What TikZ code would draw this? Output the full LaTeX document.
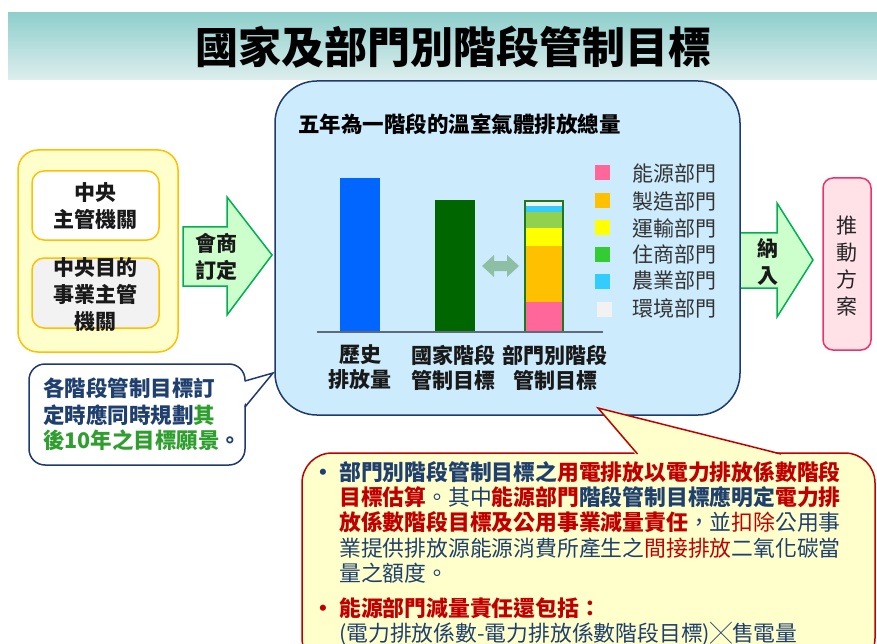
\documentclass[tikz,border=0pt]{standalone}
\usepackage{fontspec}
\setmainfont{Noto Sans CJK TC}
\definecolor{bandtop}{HTML}{8FCFCC}
\definecolor{bandbot}{HTML}{DDEEEE}
\definecolor{boxblue}{HTML}{CCEBFC}
\definecolor{navyb}{HTML}{1F3A6E}
\definecolor{txtnavy}{HTML}{1F3F6E}
\definecolor{cred}{HTML}{C00000}
\definecolor{cgreen}{HTML}{2E9E2E}
\definecolor{yelfill}{HTML}{FFFFCC}
\definecolor{gold}{HTML}{FFC000}
\definecolor{arrfill}{HTML}{CCFFCC}
\definecolor{arrdraw}{HTML}{00B050}
\definecolor{pinkfill}{HTML}{FFE1E8}
\definecolor{pinkdraw}{HTML}{F0306A}
\definecolor{cpink}{HTML}{FF6699}
\definecolor{corange}{HTML}{FFC000}
\definecolor{cyellow}{HTML}{FFFF00}
\definecolor{clgreen}{HTML}{92D050}
\definecolor{cgreenleg}{HTML}{33CC33}
\definecolor{ccyan}{HTML}{33CCFF}
\definecolor{cgray}{HTML}{F2F2F2}
\definecolor{dblarrow}{HTML}{8CBFA3}
\newcommand\cNB[1]{{\bfseries\color{txtnavy}#1}}
\newcommand\cNR[1]{{\color{txtnavy}#1}}
\newcommand\cRB[1]{{\bfseries\color{cred}#1}}
\newcommand\cRR[1]{{\color{cred}#1}}
\begin{document}
\begin{tikzpicture}[x=1pt,y=-1pt,
  garrow/.style={fill=arrfill,draw=arrdraw,line width=1.5pt,line join=miter},
  blbl/.style={inner sep=0pt,align=center,font=\fontsize{21}{27}\selectfont\bfseries,text=black!90},
  barlbl/.style={inner sep=0pt,align=center,font=\fontsize{21}{25}\selectfont\bfseries,text=black!90},
  legtxt/.style={inner sep=0pt,anchor=west,font=\fontsize{21}{21}\selectfont,text=black!80},
  legsq/.style={minimum width=15pt,minimum height=15pt,inner sep=0pt},
  cline/.style={inner sep=0pt,anchor=base west,font=\fontsize{21.8}{21.8}\selectfont},
  lline/.style={inner sep=0pt,anchor=base west,font=\fontsize{21.5}{21.5}\selectfont\bfseries}]
\useasboundingbox (0,0) rectangle (877,644);
\clip (0,0) rectangle (877,644);
\fill[white] (0,0) rectangle (877,644);
% title band
\shade[top color=bandtop,bottom color=bandbot] (8,13) rectangle (877,80);
\node[inner sep=0pt,font=\fontsize{43}{43}\selectfont\bfseries] (title) at (453,47) {國家及部門別階段管制目標};
% left group
\draw[fill=yelfill,draw=gold,line width=1.5pt,rounded corners=20pt] (18,150) rectangle (178,352);
\draw[fill=white,draw=gold,line width=1.5pt,rounded corners=12pt] (32,171) rectangle (159,240);
\draw[fill=cgray,draw=gold,line width=1.5pt,rounded corners=12pt] (32,258) rectangle (159,328);
\node[blbl] (central) at (95,206.5) {中央\\主管機關};
\node[blbl] (industry) at (95,295) {中央目的\\事業主管\\機關};
% left arrow
\draw[garrow] (183,227) -- (227,227) -- (227,197) -- (272,255) -- (227,315) -- (227,286) -- (183,286) -- cycle;
\node[blbl] (consult) at (216,256.5) {會商\\訂定};
% right arrow
\draw[garrow] (740,233) -- (777,233) -- (777,203) -- (813,260) -- (777,317) -- (777,288) -- (740,288) -- cycle;
\node[blbl] (include) at (768,261.5) {納\\入};
% blue box
\draw[fill=boxblue,draw=navyb,line width=1.5pt,rounded corners=42pt] (275,81) rectangle (740,415);
\node[inner sep=0pt,anchor=west,font=\fontsize{21.5}{21.5}\selectfont\bfseries] (head) at (298,124) {五年為一階段的溫室氣體排放總量};
% bars
\fill[fill={rgb,255:red,0;green,102;blue,255}] (340,178) rectangle (380,332);
\fill[fill={rgb,255:red,0;green,102;blue,0}] (435,200) rectangle (475,332);
\fill[cpink] (525,302) rectangle (563,332);
\fill[corange] (525,246) rectangle (563,302);
\fill[cyellow] (525,228) rectangle (563,246);
\fill[clgreen] (525,212) rectangle (563,228);
\fill[ccyan] (525,206) rectangle (563,212);
\fill[cgray] (525,201) rectangle (563,206);
\draw[draw={rgb,255:red,30;green,120;blue,30},line width=1.5pt] (525,201) rectangle (563,332);
\draw[draw={rgb,255:red,95;green,107;blue,122},line width=2pt] (317,332) -- (603,332);
\fill[dblarrow] (482,266) -- (494,255) -- (494,261) -- (507,261) -- (507,255) -- (519,266) -- (507,277) -- (507,271) -- (494,271) -- (494,277) -- cycle;
\node[barlbl] (hist) at (360,367.5) {歷史\\排放量};
\node[barlbl] (national) at (453,367.5) {國家階段\\管制目標};
\node[barlbl] (sector) at (555,367.5) {部門別階段\\管制目標};
% legend
\node[legsq,fill=cpink] (sq1) at (602.5,173) {};
\node[legsq,fill=corange] (sq2) at (602.5,201) {};
\node[legsq,fill=cyellow] (sq3) at (602.5,228) {};
\node[legsq,fill=cgreenleg] (sq4) at (602.5,254) {};
\node[legsq,fill=ccyan] (sq5) at (602.5,281) {};
\node[legsq,fill=cgray] (sq6) at (604,309) {};
\node[legtxt] (l1) at (632,174) {能源部門};
\node[legtxt] (l2) at (632,201) {製造部門};
\node[legtxt] (l3) at (632,228) {運輸部門};
\node[legtxt] (l4) at (632,254) {住商部門};
\node[legtxt] (l5) at (632,281) {農業部門};
\node[legtxt] (l6) at (632,308) {環境部門};
% pink box
\draw[fill=pinkfill,draw=pinkdraw,line width=1.5pt,rounded corners=10pt] (823,178) rectangle (871,350);
\node[inner sep=0pt,align=center,font=\fontsize{21}{27.3}\selectfont,text=black!85] (plan) at (847,266) {推\\動\\方\\案};
% left callout
\draw[fill=white,draw=navyb,line width=1.5pt,rounded corners=16pt] (29,364) rectangle (245,465);
\fill[white] (243,382) -- (273,373) -- (243,406) -- cycle;
\draw[navyb,line width=1.5pt,line join=miter] (245,381) -- (273,373) -- (245,407);
\node[lline] (c1) at (43,396) {\color{txtnavy}各階段管制目標訂};
\node[lline] (c2) at (43,423) {\color{txtnavy}定時應同時規劃\color{cgreen}其};
\node[lline] (c3) at (43,448) {\color{cgreen}後10年之目標願景\color{txtnavy}。};
% red callout
\draw[fill=yelfill,draw=cred,line width=1.5pt,rounded corners=30pt] (302,453) rectangle (875,668);
\fill[yelfill] (636,455) -- (598,408) -- (782,455) -- cycle;
\draw[cred,line width=1.5pt,line join=miter] (637.5,454) -- (598,408) -- (781,454);
\node[inner sep=0pt,anchor=base,font=\fontsize{21.8}{21.8}\selectfont\bfseries,text=txtnavy] (b1) at (323,480.3) {•};
\node[inner sep=0pt,anchor=base,font=\fontsize{21.8}{21.8}\selectfont\bfseries,text=cred] (b2) at (323,616.3) {•};
\node[cline] (t1) at (339,480.3) {\cNB{部門別階段管制目標之}\cRB{用電排放以電力排放係數階段}};
\node[cline] (t2) at (339,505.3) {\cRB{目標估算}\cNR{。其中}\cRB{能源部門}\cNB{階段管制目標應明定}\cRB{電力排}};
\node[cline] (t3) at (339,530.3) {\cRB{放係數階段目標及公用事業減量責任}\cNR{，並}\cRR{扣除}\cNR{公用事}};
\node[cline] (t4) at (339,556.3) {\cNR{業提供排放源能源消費所產生之}\cRR{間接排放}\cNR{二氧化碳當}};
\node[cline] (t5) at (339,581.3) {\cNR{量之額度。}};
\node[cline] (t6) at (339,616.3) {\cRB{能源部門減量責任還包括：}};
\node[cline] (t7) at (339,641.3) {\cNR{(電力排放係數-電力排放係數階段目標)╳售電量}};
\end{tikzpicture}
\end{document}
